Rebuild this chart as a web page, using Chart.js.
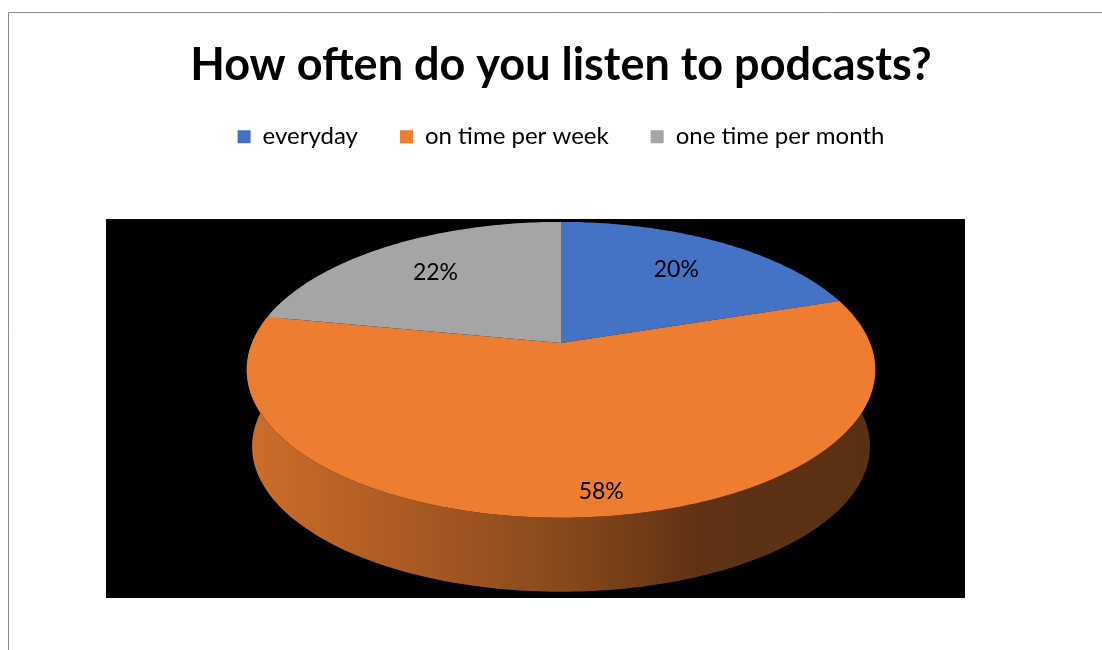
<!DOCTYPE html>
<html>
<head>
<meta charset="utf-8">
<script src="https://cdn.jsdelivr.net/npm/chart.js@4.4.1/dist/chart.umd.min.js"></script>
<style>
html, body { margin: 0; padding: 0; background: #ffffff; }
canvas { display: block; }
</style>
</head>
<body>
<canvas id="podcastChart" width="1102" height="650"></canvas>
<script>
var categories = ["everyday", "on time per week", "one time per month"];
var shares = [20, 58, 22];
var sliceColors = ["#4472C4", "#ED7D31", "#A5A5A5"];

// tilted disc: half axes, perspective factor, thickness
var tilt = { rx: 309, ry: 143, k: 0.182, depth: 77, bottomScale: 0.983 };
var plotBox = { x: 106, y: 219, w: 859, h: 379 };

// label placement inside the slices
var labelRadius = [0.7, 0.876, 0.7];
var labelShiftX = [0, 20, 0];

function project(cx, cy, angle, r, lower) {
    var s = lower ? tilt.bottomScale : 1;
    var u = r * Math.cos(angle);
    var v = r * Math.sin(angle);
    var w = 1 - tilt.k * v;
    return {
        x: cx + tilt.rx * s * u / w,
        y: cy + (lower ? tilt.depth : 0) + tilt.ry * s * v / w
    };
}

function shade(hex, f) {
    var n = parseInt(hex.slice(1), 16);
    var r = Math.round(((n >> 16) & 255) * f);
    var g = Math.round(((n >> 8) & 255) * f);
    var b = Math.round((n & 255) * f);
    return "rgb(" + r + "," + g + "," + b + ")";
}

function rimPath(ctx, cx, cy, a0, a1, lower, first) {
    var steps = Math.max(8, Math.ceil(Math.abs(a1 - a0) * 60));
    for (var j = 0; j <= steps; j++) {
        var p = project(cx, cy, a0 + (a1 - a0) * j / steps, 1, lower);
        if (first && j === 0) ctx.moveTo(p.x, p.y);
        else ctx.lineTo(p.x, p.y);
    }
}

var pie3d = {
    id: "pie3d",
    beforeDraw: function (chart) {
        var ctx = chart.ctx;
        ctx.save();
        ctx.fillStyle = "#ffffff";
        ctx.fillRect(0, 0, chart.width, chart.height);
        ctx.strokeStyle = "#8c8c8c";
        ctx.lineWidth = 1;
        ctx.beginPath();
        ctx.moveTo(8.5, chart.height);
        ctx.lineTo(8.5, 12.5);
        ctx.lineTo(chart.width, 12.5);
        ctx.stroke();
        ctx.fillStyle = "#000000";
        ctx.fillRect(plotBox.x, plotBox.y, plotBox.w, plotBox.h);
        ctx.restore();
    },
    beforeDatasetsDraw: function (chart) {
        var ctx = chart.ctx;
        var arcs = chart.getDatasetMeta(0).data;
        var cx = arcs[0].x, cy = arcs[0].y;
        var total = shares.reduce(function (a, b) { return a + b; }, 0);
        ctx.save();

        // side wall, only the front half can be seen
        arcs.forEach(function (arc, i) {
            var a0 = Math.max(arc.startAngle, -0.1 * Math.PI);
            var a1 = Math.min(arc.endAngle, 1.1 * Math.PI);
            if (a1 <= a0) return;
            var left = cx - tilt.rx * 1.02, right = cx + tilt.rx * 1.02;
            var grad = ctx.createLinearGradient(left, 0, right, 0);
            var c = sliceColors[i];
            grad.addColorStop(0, shade(c, 0.87));
            grad.addColorStop(0.5, shade(c, 0.58));
            grad.addColorStop(0.72, shade(c, 0.4));
            grad.addColorStop(1, shade(c, 0.38));
            ctx.beginPath();
            rimPath(ctx, cx, cy, a0, a1, false, true);
            rimPath(ctx, cx, cy, a1, a0, true, false);
            ctx.closePath();
            ctx.fillStyle = grad;
            ctx.fill();
        });

        // top faces
        arcs.forEach(function (arc, i) {
            ctx.beginPath();
            ctx.moveTo(cx, cy);
            rimPath(ctx, cx, cy, arc.startAngle, arc.endAngle, false, false);
            ctx.closePath();
            ctx.fillStyle = sliceColors[i];
            ctx.fill();
        });

        // percentage labels
        ctx.font = "23px Lato";
        ctx.fillStyle = "#000000";
        ctx.textAlign = "center";
        ctx.textBaseline = "middle";
        arcs.forEach(function (arc, i) {
            var mid = (arc.startAngle + arc.endAngle) / 2;
            var p = project(cx, cy, mid, labelRadius[i], false);
            ctx.fillText(Math.round(shares[i] / total * 100) + "%", p.x + labelShiftX[i], p.y);
        });

        ctx.restore();
        return false;
    }
};

new Chart(document.getElementById("podcastChart"), {
    type: "pie",
    data: {
        labels: categories,
        datasets: [{
            data: shares,
            backgroundColor: sliceColors,
            borderWidth: 0
        }]
    },
    options: {
        responsive: false,
        animation: false,
        events: [],
        layout: {
            padding: { left: 106, right: 86, top: 0, bottom: 123 }
        },
        plugins: {
            title: {
                display: true,
                text: "How often do you listen to podcasts?",
                color: "#000000",
                font: { family: "Lato", size: 45, weight: "bold", lineHeight: 0.75 },
                padding: { top: 49, bottom: 0 }
            },
            legend: {
                position: "top",
                labels: {
                    boxWidth: 13,
                    boxHeight: 13,
                    padding: 42,
                    color: "#000000",
                    font: { family: "Lato", size: 24 }
                }
            },
            tooltip: { enabled: false }
        }
    },
    plugins: [pie3d]
});
</script>
</body>
</html>
